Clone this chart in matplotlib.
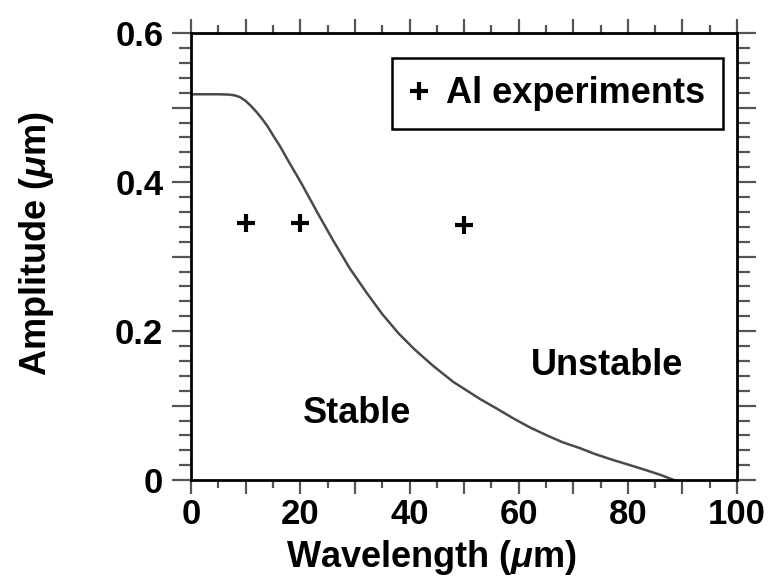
import matplotlib.pyplot as plt
from matplotlib.ticker import MultipleLocator, FuncFormatter

# Stability boundary
wavelength = [0, 5, 7, 8, 9, 10, 11, 12, 13, 14, 15, 16.3, 18, 20, 21.8,
              23.6, 26, 29, 32.2, 35, 38, 41, 44.4, 48, 52.9, 56, 59, 62,
              65.2, 68, 71.2, 74, 77.3, 80, 83.5, 86, 88.5]
amplitude = [0.518, 0.518, 0.5175, 0.5165, 0.514, 0.509, 0.502, 0.494,
             0.485, 0.475, 0.463, 0.448, 0.426, 0.401, 0.377, 0.353, 0.322,
             0.285, 0.251, 0.223, 0.197, 0.175, 0.153, 0.132, 0.109, 0.096,
             0.083, 0.071, 0.060, 0.051, 0.043, 0.035, 0.027, 0.021, 0.013,
             0.007, 0.0]

# Al experiments
exp_wavelength = [10, 20, 50]
exp_amplitude = [0.345, 0.345, 0.343]

plt.rcParams['font.family'] = ['Liberation Sans', 'DejaVu Sans']
plt.rcParams['font.weight'] = 'bold'
plt.rcParams['mathtext.fontset'] = 'custom'
plt.rcParams['mathtext.it'] = 'Liberation Sans:bold:italic'
plt.rcParams['mathtext.rm'] = 'Liberation Sans:bold'

fig = plt.figure(figsize=(7.8, 5.82), dpi=100)
ax = fig.add_axes([0.245, 0.175, 0.70, 0.768])

ax.plot(wavelength, amplitude, color='#4a4a4a', lw=1.8)
ax.plot(exp_wavelength, exp_amplitude, ls='none', marker='+', color='black',
        markersize=13, markeredgewidth=3, label='Al experiments')

ax.set_xlim(0, 100)
ax.set_ylim(0, 0.6)

ax.xaxis.set_minor_locator(MultipleLocator(5))
ax.yaxis.set_major_locator(MultipleLocator(0.1))
ax.yaxis.set_minor_locator(MultipleLocator(0.02))


def ylab(v, pos):
    k = round(v * 10)
    if k % 2:
        return ''
    return '0' if k == 0 else f'{v:.1f}'


ax.yaxis.set_major_formatter(FuncFormatter(ylab))

# major x ticks every 10, labels every 20
ax.set_xticks([0, 10, 20, 30, 40, 50, 60, 70, 80, 90, 100])
ax.set_xticklabels(['0', '', '20', '', '40', '', '60', '', '80', '', '100'])

ax.tick_params(axis='both', which='both', direction='out', colors='#555555',
               labelcolor='black', width=1.6, labelsize=25,
               top=True, right=True)
ax.tick_params(axis='x', which='major', length=10, pad=3)
ax.tick_params(axis='x', which='minor', length=6)
ax.tick_params(axis='y', which='major', length=14, pad=6)
ax.tick_params(axis='y', which='minor', length=9)

for s in ax.spines.values():
    s.set_linewidth(2)
    s.set_color('black')

ax.set_xlabel(r'Wavelength ($\mu$m)', fontsize=26, fontweight='bold', va='center')
ax.set_ylabel(r'Amplitude ($\mu$m)', fontsize=26, fontweight='bold', va='center')
ax.xaxis.set_label_coords(0.44, -0.174)
ax.yaxis.set_label_coords(-0.284, 0.53)

ax.text(30.4, 0.09, 'Stable', fontsize=26, fontweight='bold',
        ha='center', va='center')
ax.text(76.2, 0.154, 'Unstable', fontsize=26, fontweight='bold',
        ha='center', va='center')

leg = ax.legend(loc='upper right', bbox_to_anchor=(0.974, 0.944),
                fontsize=26, handlelength=0.5, handletextpad=0.5,
                borderpad=0.5, fancybox=False, framealpha=1,
                edgecolor='black', borderaxespad=0)
leg.get_frame().set_linewidth(1.8)
for t in leg.get_texts():
    t.set_fontweight('bold')

fig.savefig('out.png', dpi=100)
